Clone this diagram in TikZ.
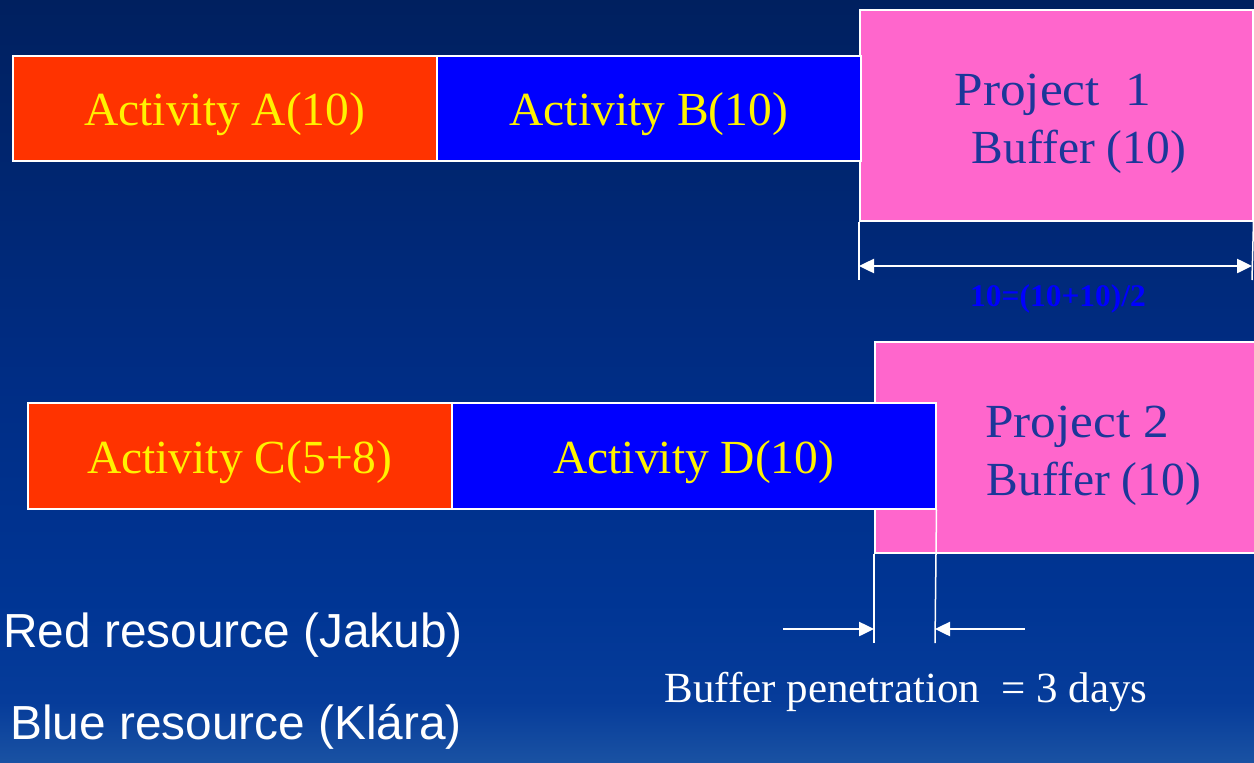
\documentclass[tikz,border=0pt]{standalone}
\usepackage{fontspec}
\setmainfont{Liberation Serif}
\newfontfamily\arialf{Liberation Sans}
\newfontfamily\projf[FakeStretch=1.08]{Liberation Serif}
\usetikzlibrary{arrows.meta}
\definecolor{actred}{HTML}{FF3300}
\definecolor{actblue}{HTML}{0000FF}
\definecolor{bufpink}{HTML}{FF66CC}
\definecolor{buftext}{HTML}{1C3799}
\definecolor{bgA}{HTML}{00205F}
\definecolor{bgB}{HTML}{002D85}
\definecolor{bgC}{HTML}{003594}
\definecolor{bgD}{HTML}{063C9A}
\definecolor{bgE}{HTML}{1A52A3}
\pgfdeclareverticalshading{bgshade}{100bp}{color(0bp)=(bgE); color(25bp)=(bgE); color(29bp)=(bgD); color(35.7bp)=(bgC); color(50bp)=(bgB); color(75bp)=(bgA); color(100bp)=(bgA)}
\begin{document}
\begin{tikzpicture}[x=1pt,y=-1pt,
  actbox/.style={draw=white, line width=1.5pt, anchor=north west, inner sep=0pt,
    text=yellow, text height=35pt, text depth=0pt, font=\fontsize{47.5}{56}\selectfont},
  bufbox/.style={draw=white, line width=1.5pt, fill=bufpink, anchor=north west, inner sep=0pt},
  buftxt/.style={text=buftext, inner sep=0pt, anchor=base, font=\fontsize{47.5}{56}\selectfont},
  wline/.style={draw=white, line width=1.5pt},
  warrow/.style={draw=white, line width=2.5pt, -{Triangle[length=15pt,width=14pt]}},
  warrows/.style={draw=white, line width=2.5pt, {Triangle[length=15pt,width=14pt]}-{Triangle[length=15pt,width=14pt]}},
  restxt/.style={text=white, anchor=base west, inner sep=0pt, font=\arialf\fontsize{47.8}{56}\selectfont}
]
\useasboundingbox (0,0) rectangle (1254,763);
\shade[shading=bgshade] (0,0) rectangle (1254,763);

% Row 1
\node[bufbox, minimum width=393pt, minimum height=211pt] (P1) at (859,9) {};
\node[actbox, fill=actred, minimum width=424pt, minimum height=105pt] (A) at (12,55) {Activity A(10)};
\node[actbox, fill=actblue, minimum width=424pt, minimum height=105pt] (B) at (436,55) {Activity B(10)};
\node[buftxt] (P1a) at (1053,105) {\projf Project\ \ 1};
\node[buftxt] (P1b) at (1079,163) {Buffer (10)};

% dimension of buffer 1
\coordinate (d1top) at (P1.south west);
\coordinate (d2top) at (P1.south east);
\coordinate (d1bot) at (859,280);
\coordinate (d2bot) at (1252,280);
\coordinate (dl) at (859,266);
\coordinate (dr) at (1252,266);
\draw[wline] (d1top) -- (d1bot);
\draw[wline] (d2top) -- (d2bot);
\draw[warrows] (dl) -- (dr);
\node[text=actblue, inner sep=0pt, font=\bfseries\fontsize{31.5}{36}\selectfont] (dimlab) at (1058,299) {10=(10+10)/2};

% Row 2
\node[bufbox, minimum width=382pt, minimum height=211pt] (P2) at (874,341) {};
\node[actbox, fill=actred, minimum width=424pt, minimum height=106pt] (C) at (27,402) {Activity C(5+8)};
\node[actbox, fill=actblue, minimum width=484pt, minimum height=106pt] (D) at (451,402) {Activity D(10)};
\node[buftxt] (P2a) at (1077,437) {\projf Project 2};
\node[buftxt] (P2b) at (1094,495) {Buffer (10)};

% buffer penetration
\coordinate (pl) at (P2.south west);
\coordinate (pr) at (D.south east);
\coordinate (plb) at (874,643);
\coordinate (prb) at (935,643);
\coordinate (pla) at (874,629);
\coordinate (pra) at (935,629);
\coordinate (als) at (783,629);
\coordinate (ars) at (1025,629);
\draw[wline] (pl) -- (plb);
\draw[wline] (pr) -- (prb);
\draw[warrow] (als) -- (pla);
\draw[warrow] (ars) -- (pra);
\node[text=white, inner sep=0pt, font=\fontsize{43}{50}\selectfont] (pen) at (906,692) {Buffer penetration\ \ = 3 days};

% resources
\node[restxt] (red) at (3,647) {Red resource (Jakub)};
\node[restxt] (blue) at (10,739) {Blue resource (Klára)};
\end{tikzpicture}
\end{document}
